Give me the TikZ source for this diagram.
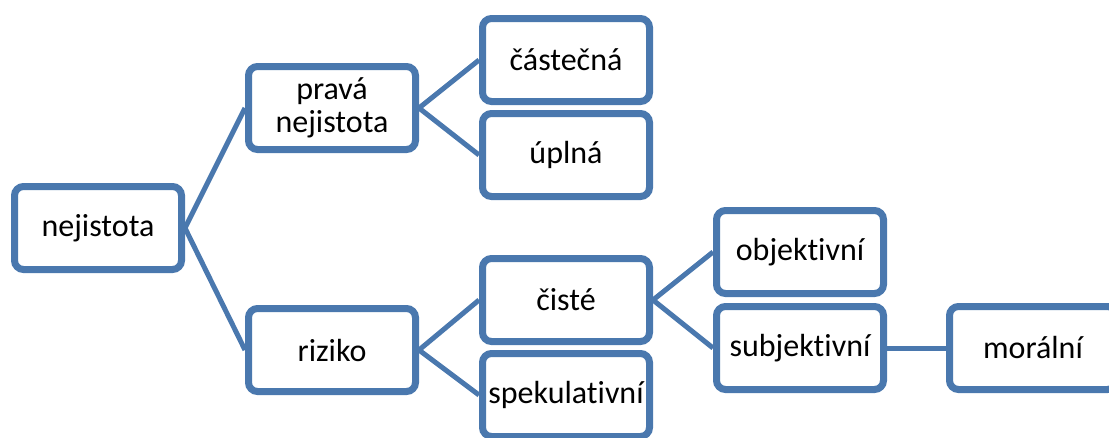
\documentclass[tikz,border=0pt]{standalone}
\usepackage{fontspec}
\setmainfont{Carlito}[Ligatures=NoCommon]
\usepackage{xcolor}
\usepackage{tikz}
\usetikzlibrary{shapes,arrows,positioning,shadows}
\definecolor{boxblue}{HTML}{4A78AE}
\tikzstyle{block} = [rectangle, draw=boxblue, fill=white, line width=7pt,
    minimum width=167pt, minimum height=83pt, rounded corners=9pt,
    text centered, align=center, font=\fontsize{32}{36}\selectfont,
    drop shadow={shadow xshift=0pt, shadow yshift=-3pt, opacity=0.3}]
\tikzstyle{line} = [draw=boxblue, line width=5pt]

\begin{document}
\begin{tikzpicture}[x=1pt, y=-1pt]
    \useasboundingbox (0,0) rectangle (1109,437);
    % Nodes
    \node [block] (unc) at (98,228) {nejistota};
    \node [block] (true) at (332,108) {pravá\\[-3pt]nejistota};
    \node [block] (partial) at (566,60) {částečná};
    \node [block] (full) at (566,155) {úplná};
    \node [block] (risk) at (332,350) {riziko};
    \node [block] (pure) at (566,300) {čisté};
    \node [block] (spec) at (566,395) {spekulativní};
    \node [block] (obj) at (800,252) {objektivní};
    \node [block] (subj) at (800,348) {subjektivní};
    \node [block] (moral) at (1033,348) {morální};

    % Edges
    \path [line] (unc.east) -- (true.west);
    \path [line] (unc.east) -- (risk.west);
    \path [line] (true.east) -- (partial.west);
    \path [line] (true.east) -- (full.west);
    \path [line] (risk.east) -- (pure.west);
    \path [line] (risk.east) -- (spec.west);
    \path [line] (pure.east) -- (obj.west);
    \path [line] (pure.east) -- (subj.west);
    \path [line] (subj.east) -- (moral.west);
\end{tikzpicture}
\end{document}
